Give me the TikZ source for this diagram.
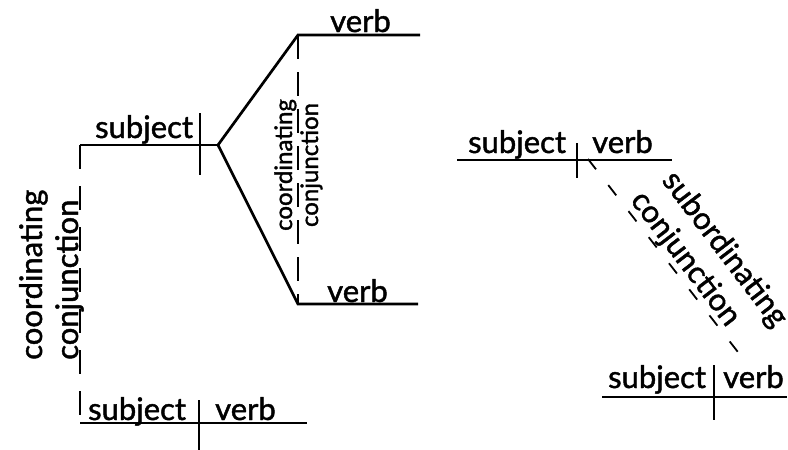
\documentclass[tikz,border=0pt]{standalone}
\usepackage{fontspec}
\setmainfont{Lato}[FakeBold=1.4]
\begin{document}
\begin{tikzpicture}[x=1pt,y=-1pt,
  lbl/.style={font=\fontsize{31}{36}\selectfont, inner sep=0pt, anchor=base west},
  rlbl/.style={lbl, rotate=90},
  dlbl/.style={lbl, rotate=-52.7},
  smalllbl/.style={font=\fontsize{24}{28}\selectfont, inner sep=0pt, anchor=base, rotate=90},
  heavy/.style={line width=2.7pt},
  light/.style={line width=2pt},
  dashA/.style={line width=2.7pt, dash pattern=on 24pt off 17pt},
  dashB/.style={line width=2.7pt, dash pattern=on 24pt off 13pt},
  dashC/.style={line width=1.8pt, dash pattern=on 13pt off 20pt}]
\useasboundingbox (0,0) rectangle (788,450);
% ---------- left diagram ----------
\coordinate (tl) at (80,145);
\coordinate (fork) at (218,145);
\coordinate (ts1) at (200,113);
\coordinate (ts2) at (200,175);
\coordinate (v1a) at (298,35);
\coordinate (v1b) at (420,35);
\coordinate (v2a) at (298,304);
\coordinate (v2b) at (418,304);
\coordinate (bl) at (80,423);
\coordinate (br) at (307,423);
\coordinate (bs1) at (199,400);
\coordinate (bs2) at (199,450);
\draw[heavy] (tl) -- (fork);
\draw[heavy] (ts1) -- (ts2);
\draw[heavy] (fork) -- (v1a) -- (v1b);
\draw[heavy] (fork) -- (v2a) -- (v2b);
\draw[dashB] (v1a) -- (v2a);
\draw[dashA] (tl) -- (bl);
\draw[heavy] (bl) -- (br);
\draw[heavy] (bs1) -- (bs2);
\node[lbl] (s1) at (95,138) {subject};
\node[lbl] (vb1) at (330,32) {verb};
\node[lbl] (vb2) at (327,302) {verb};
\node[lbl] (s2) at (88,420) {subject};
\node[lbl] (vb3) at (215,420) {verb};
\node[rlbl] (cc1) at (42,360) {coordinating};
\node[rlbl] (cc2) at (78,360) {conjunction};
\node[smalllbl] (mc1) at (292,165) {coordinating};
\node[smalllbl] (mc2) at (318,165) {conjunction};
% ---------- right diagram ----------
\coordinate (r1a) at (457,160);
\coordinate (r1b) at (672,160);
\coordinate (rs1) at (577,143);
\coordinate (rs2) at (577,178);
\coordinate (rd1) at (588,159);
\coordinate (rd2) at (741,356);
\coordinate (r2a) at (602,397);
\coordinate (r2b) at (787,397);
\coordinate (r2s1) at (714,365);
\coordinate (r2s2) at (714,420);
\draw[light] (r1a) -- (r1b);
\draw[light] (rs1) -- (rs2);
\draw[dashC] (rd1) -- (rd2);
\draw[light] (r2a) -- (r2b);
\draw[light] (r2s1) -- (r2s2);
\node[lbl] (rs) at (468,153) {subject};
\node[lbl] (rv) at (592,153) {verb};
\node[lbl] (rs3) at (608,388) {subject};
\node[lbl] (rv3) at (723,388) {verb};
\node[dlbl] (sc1) at (661,180.6) {subordinating};
\node[dlbl] (sc2) at (629.6,200.4) {conjunction};
\end{tikzpicture}
\end{document}
